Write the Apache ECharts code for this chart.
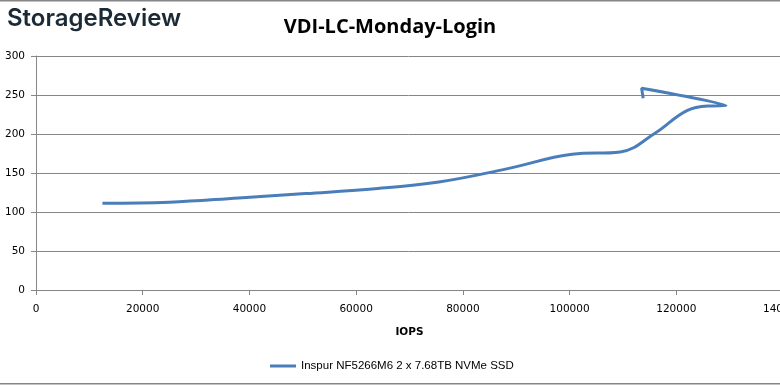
<!DOCTYPE html>
<html>
<head>
<meta charset="utf-8">
<script src="https://cdn.jsdelivr.net/npm/echarts@6/dist/echarts.min.js"></script>
<style>html,body{margin:0;padding:0;background:#fff}#c{width:780px;height:385px}</style>
</head>
<body>
<div id="c"></div>
<script>
const seriesName = 'Inspur NF5266M6 2 x 7.68TB NVMe SSD';
const iops = [12450, 25000, 38000, 50500, 63000, 75500, 88000, 100500, 109500, 116000, 122000, 126500, 129300, 113500, 113800];
const latency = [111.2, 112.5, 118, 123.6, 129.5, 138.5, 155, 174, 177, 201, 230, 236, 236.5, 258.6, 245.8];
const xTicks = [0, 20000, 40000, 60000, 80000, 100000, 120000, 140000];
const yTicks = [0, 50, 100, 150, 200, 250, 300];

const chart = echarts.init(document.getElementById('c'), null, {renderer: 'canvas'});
const gray = '#868686';
chart.setOption({
  animation: false,
  backgroundColor: '#fff',
  title: {
    text: 'VDI-LC-Monday-Login',
    left: 'center', top: 12,
    textStyle: {fontFamily: 'Open Sans', fontWeight: 'bold', fontSize: 20, color: '#000'}
  },
  graphic: [
    {type: 'text', left: 7, top: 7, style: {text: 'StorageReview', fontFamily: 'Inter', fontWeight: 600, fontSize: 24, fill: '#1a2a36'}},
    {type: 'rect', shape: {x: 0, y: 0, width: 780, height: 1.5}, style: {fill: gray}},
    {type: 'rect', shape: {x: 0, y: 383, width: 780, height: 1.5}, style: {fill: gray}}
  ],
  legend: {
    data: [seriesName],
    left: 265, top: 355,
    icon: 'rect', itemWidth: 26, itemHeight: 3, itemGap: 5,
    textStyle: {fontFamily: 'Liberation Sans', fontSize: 11.5, color: '#000'}
  },
  grid: {left: 36, top: 56, width: 747, height: 234, containLabel: false, outerBoundsMode: 'none'},
  xAxis: {
    type: 'value', min: 0, max: 140000, interval: 20000,
    name: 'IOPS', nameLocation: 'middle', nameGap: 37,
    nameTextStyle: {fontFamily: 'DejaVu Sans', fontWeight: 'bold', fontSize: 10.5, color: '#000'},
    axisLine: {show: true, lineStyle: {color: gray, width: 1}},
    axisTick: {show: true, length: 5, lineStyle: {color: gray}},
    splitLine: {show: false},
    axisLabel: {fontFamily: 'DejaVu Sans', fontSize: 10.5, color: '#000', margin: 14,
      hideOverlap: false, showMaxLabel: true, formatter: v => String(v)}
  },
  yAxis: {
    type: 'value', min: 0, max: 300, interval: 50,
    axisLine: {show: true, lineStyle: {color: gray, width: 1}},
    axisTick: {show: true, length: 5, lineStyle: {color: gray}},
    splitLine: {show: true, lineStyle: {color: gray, width: 1}},
    axisLabel: {fontFamily: 'DejaVu Sans', fontSize: 10.5, color: '#000', margin: 11}
  },
  series: [{
    name: seriesName,
    type: 'line',
    data: iops.map((x, i) => [x, latency[i]]),
    smooth: 0.4,
    symbol: 'none',
    lineStyle: {color: '#4a7ebb', width: 3},
    itemStyle: {color: '#4a7ebb'}
  }]
});
</script>
</body>
</html>
